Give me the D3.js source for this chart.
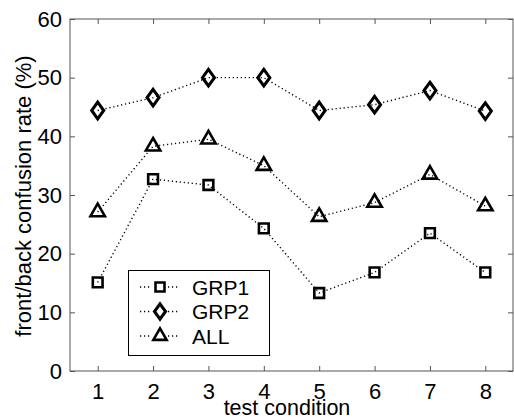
<!DOCTYPE html>
<html>
<head>
<meta charset="utf-8">
<script src="https://cdn.jsdelivr.net/npm/d3@7"></script>
<style>
  body { margin: 0; background: #fff; }
  svg { display: block; font-family: "Liberation Sans", Arial, sans-serif; }
</style>
</head>
<body>
<div id="chart"></div>
<script>
// test conditions on the x axis
const conditions = [1, 2, 3, 4, 5, 6, 7, 8];

// front/back confusion rate (%) per group
const grp1 = [15.1, 32.7, 31.7, 24.3, 13.3, 16.8, 23.5, 16.8];
const grp2 = [44.4, 46.6, 50.0, 50.0, 44.4, 45.4, 47.8, 44.3];
const all  = [27.1, 38.3, 39.5, 35.0, 26.3, 28.7, 33.5, 28.1];

const seriesNames = ["GRP1", "GRP2", "ALL"];
const yTicks = [0, 10, 20, 30, 40, 50, 60];

const width = 514, height = 419;
const margin = {top: 19, right: 1, bottom: 48, left: 70};
const fontSize = 22;

const svg = d3.select("#chart")
    .append("svg")
    .attr("width", width)
    .attr("height", height);

const x = d3.scaleLinear()
    .domain([0.5, 8.5])
    .range([margin.left, width - margin.right]);

const y = d3.scaleLinear()
    .domain([0, 60])
    .range([height - margin.bottom, margin.top]);

const axisColor = "#555";

// frame
svg.append("rect")
    .attr("x", x(0.5))
    .attr("y", y(60))
    .attr("width", x(8.5) - x(0.5))
    .attr("height", y(0) - y(60))
    .attr("fill", "none")
    .attr("stroke", axisColor)
    .attr("stroke-width", 1);

// X axis (ticks inside)
const xAxis = svg.append("g")
    .attr("transform", "translate(0," + y(0) + ")")
    .call(d3.axisBottom(x).tickValues(conditions).tickFormat(d3.format("d"))
        .tickSizeInner(-5).tickSizeOuter(0).tickPadding(12));
xAxis.select(".domain").remove();
xAxis.selectAll("line").attr("stroke", axisColor);
xAxis.selectAll("text").attr("font-size", fontSize).attr("fill", "#000")
    .attr("font-family", "Liberation Sans, Arial, sans-serif");

// top ticks
const xTop = svg.append("g")
    .attr("transform", "translate(0," + y(60) + ")")
    .call(d3.axisTop(x).tickValues(conditions).tickFormat("")
        .tickSizeInner(-5).tickSizeOuter(0));
xTop.select(".domain").remove();
xTop.selectAll("line").attr("stroke", axisColor);

// Y axis
const yAxis = svg.append("g")
    .attr("transform", "translate(" + x(0.5) + ",0)")
    .call(d3.axisLeft(y).tickValues(yTicks)
        .tickSizeInner(-5).tickSizeOuter(0).tickPadding(8));
yAxis.select(".domain").remove();
yAxis.selectAll("line").attr("stroke", axisColor);
yAxis.selectAll("text").attr("font-size", fontSize).attr("fill", "#000")
    .attr("font-family", "Liberation Sans, Arial, sans-serif");

// right ticks
const yRight = svg.append("g")
    .attr("transform", "translate(" + x(8.5) + ",0)")
    .call(d3.axisRight(y).tickValues(yTicks).tickFormat("")
        .tickSizeInner(-5).tickSizeOuter(0));
yRight.select(".domain").remove();
yRight.selectAll("line").attr("stroke", axisColor);

// axis titles
svg.append("text")
    .attr("x", 287)
    .attr("y", 415)
    .attr("text-anchor", "middle")
    .attr("font-size", 21.5)
    .text("test condition");

svg.append("text")
    .attr("transform", "translate(31,196) rotate(-90)")
    .attr("text-anchor", "middle")
    .attr("font-size", fontSize)
    .text("front/back confusion rate (%)");

// markers
const markers = {
    GRP1: d3.symbolSquare,
    GRP2: d3.symbolDiamond,
    ALL: d3.symbolTriangle
};
const markerSize = {GRP1: 95, GRP2: 80, ALL: 90};

function drawMarker(g, name, cx, cy, scale) {
    const s = scale || 1;
    g.append("path")
        .attr("d", d3.symbol().type(markers[name]).size(markerSize[name] * s)())
        .attr("transform", "translate(" + cx + "," + cy + ")" + (name === "GRP2" ? " scale(1.25,1)" : ""))
        .attr("fill", "none")
        .attr("stroke", "#000")
        .attr("stroke-width", 2.6);
}

const allSeries = [grp1, grp2, all];
const line = d3.line()
    .x((d, i) => x(conditions[i]))
    .y(d => y(d));

allSeries.forEach(vals => {
    svg.append("path")
        .datum(vals)
        .attr("fill", "none")
        .attr("stroke", "#000")
        .attr("stroke-width", 1.4)
        .attr("stroke-dasharray", "1.2,2.8")
        .attr("d", line);
});

allSeries.forEach((vals, k) => {
    const g = svg.append("g");
    vals.forEach((v, i) => drawMarker(g, seriesNames[k], x(conditions[i]), y(v)));
});

// legend
const legend = svg.append("g");
legend.append("rect")
    .attr("x", 128.5)
    .attr("y", 270.5)
    .attr("width", 141)
    .attr("height", 85)
    .attr("fill", "#fff")
    .attr("stroke", "#000")
    .attr("stroke-width", 1);

seriesNames.forEach((name, k) => {
    const ly = 287 + k * 24.5;
    legend.append("line")
        .attr("x1", 140).attr("x2", 180)
        .attr("y1", ly).attr("y2", ly)
        .attr("stroke", "#000")
        .attr("stroke-width", 1.4)
        .attr("stroke-dasharray", "1.2,2.8");
    const mg = legend.append("g");
    mg.append("rect")
        .attr("x", 152).attr("y", ly - 8)
        .attr("width", 16).attr("height", 16)
        .attr("fill", "#fff");
    drawMarker(mg, name, 160, ly, 0.85);
    legend.append("text")
        .attr("x", 192)
        .attr("y", ly + 7.5)
        .attr("font-size", 21)
        .text(name);
});
</script>
</body>
</html>
